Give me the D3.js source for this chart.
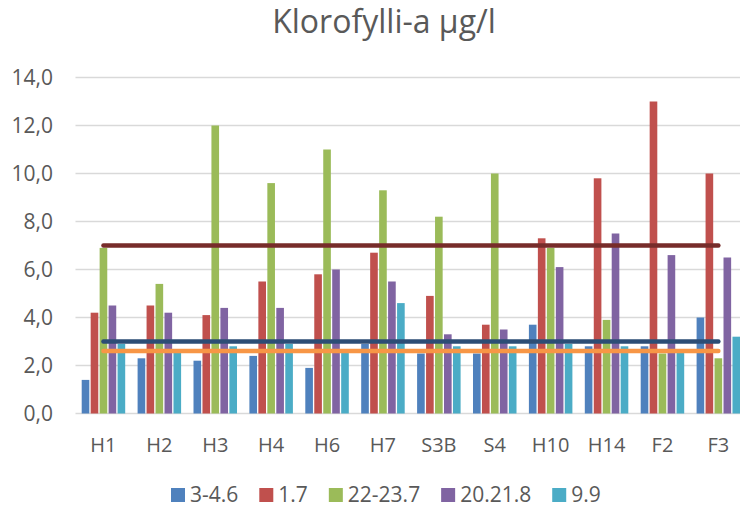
<!DOCTYPE html>
<html lang="fi">
<head>
<meta charset="utf-8">
<style>
  body { margin: 0; background: #fff; }
  svg { display: block; font-family: "Open Sans", "Noto Sans", sans-serif; }
  .grid line { stroke: #d9d9d9; stroke-width: 1.5; }
  .lbl { fill: #595959; }
</style>
</head>
<body>
<svg width="740" height="508"></svg>
<script src="https://cdn.jsdelivr.net/npm/d3@7"></script>
<script>
// data
var categories = ["H1", "H2", "H3", "H4", "H6", "H7", "S3B", "S4", "H10", "H14", "F2", "F3"];
var seriesNames = ["3-4.6", "1.7", "22-23.7", "20.21.8", "9.9"];
var s_3_46   = [1.4, 2.3, 2.2, 2.4, 1.9, 2.9, 2.5, 2.5, 3.7, 2.8, 2.8, 4.0];
var s_17     = [4.2, 4.5, 4.1, 5.5, 5.8, 6.7, 4.9, 3.7, 7.3, 9.8, 13.0, 10.0];
var s_22_237 = [6.9, 5.4, 12.0, 9.6, 11.0, 9.3, 8.2, 10.0, 6.9, 3.9, 2.5, 2.3];
var s_20218  = [4.5, 4.2, 4.4, 4.4, 6.0, 5.5, 3.3, 3.5, 6.1, 7.5, 6.6, 6.5];
var s_99     = [2.9, 2.6, 2.8, 2.9, 2.6, 4.6, 2.8, 2.8, 2.9, 2.8, 2.6, 3.2];
var refValues = [7.0, 3.0, 2.6];
var yTicks = [0, 2, 4, 6, 8, 10, 12, 14];

var seriesColors = ["#4f81bd", "#c0504d", "#9bbb59", "#8064a2", "#4bacc6"];
var refColors = ["#772c2a", "#2c4d75", "#f79646"];
var allSeries = [s_3_46, s_17, s_22_237, s_20218, s_99];

var svg = d3.select("svg");
var plotLeft = 75.5, plotRight = 746.3, plotTop = 77.5, plotBottom = 413.5;

var x = d3.scaleBand().domain(categories).range([plotLeft, plotRight]).padding(0);
var xs = d3.scaleBand().domain(d3.range(seriesNames.length)).range([-21.75, 21.75]).paddingInner(0.15);
var y = d3.scaleLinear().domain([0, 14]).range([plotBottom, plotTop]);
var fmt = d3.formatLocale({decimal: ",", thousands: " ", grouping: [3], currency: ["", "€"]}).format(".1f");

// title
svg.append("text")
    .attr("class", "lbl")
    .attr("x", 384).attr("y", 33)
    .attr("text-anchor", "middle")
    .style("font-size", "32px")
    .text("Klorofylli-a µg/l");

// gridlines
var grid = svg.append("g").attr("class", "grid");
grid.selectAll("line")
    .data(yTicks)
    .enter().append("line")
    .attr("x1", plotLeft).attr("x2", plotRight)
    .attr("y1", function (d) { return y(d); })
    .attr("y2", function (d) { return y(d); });

// y axis labels
var yAxis = d3.axisLeft(y).tickValues(yTicks).tickFormat(fmt).tickSize(0).tickPadding(0);
var yg = svg.append("g").attr("transform", "translate(53,0)").call(yAxis);
yg.attr("font-family", null).attr("font-size", null);
yg.select(".domain").remove();
yg.selectAll("text").attr("class", "lbl").attr("fill", null).style("font-size", "21px").attr("dy", "0.35em");

// x axis labels
var xAxis = d3.axisBottom(x).tickSize(0).tickPadding(0);
var xg = svg.append("g").attr("transform", "translate(0,452)").call(xAxis);
xg.attr("font-family", null).attr("font-size", null);
xg.select(".domain").remove();
xg.selectAll("text").attr("class", "lbl").attr("fill", null).attr("dy", 0).style("font-size", "20px");

// bars
var groups = svg.append("g").selectAll("g")
    .data(categories)
    .enter().append("g")
    .attr("transform", function (d) { return "translate(" + (x(d) + x.bandwidth() / 2) + ",0)"; });

groups.selectAll("rect")
    .data(function (d, i) {
        return allSeries.map(function (s, k) { return {k: k, v: s[i]}; });
    })
    .enter().append("rect")
    .attr("x", function (d) { return xs(d.k); })
    .attr("width", xs.bandwidth())
    .attr("y", function (d) { return y(d.v); })
    .attr("height", function (d) { return y(0) - y(d.v); })
    .attr("fill", function (d) { return seriesColors[d.k]; });

// reference lines
var line = d3.line()
    .x(function (d) { return x(d.c) + x.bandwidth() / 2; })
    .y(function (d) { return y(d.v); });

svg.append("g").selectAll("path")
    .data(refValues)
    .enter().append("path")
    .attr("d", function (v) {
        return line(categories.map(function (c) { return {c: c, v: v}; }));
    })
    .attr("fill", "none")
    .attr("stroke", function (d, i) { return refColors[i]; })
    .attr("stroke-width", 4.5)
    .attr("stroke-linecap", "round");

// legend
var legend = svg.append("g").attr("transform", "translate(171,0)");
var lx = 0;
seriesNames.forEach(function (name, i) {
    var item = legend.append("g").attr("transform", "translate(" + lx + ",0)");
    item.append("rect")
        .attr("x", 0).attr("y", 488)
        .attr("width", 14).attr("height", 14)
        .attr("fill", seriesColors[i]);
    var t = item.append("text")
        .attr("class", "lbl")
        .attr("x", 19).attr("y", 502)
        .style("font-size", "21px")
        .text(name);
    lx += 19 + t.node().getComputedTextLength() + 21;
});
</script>
</body>
</html>
